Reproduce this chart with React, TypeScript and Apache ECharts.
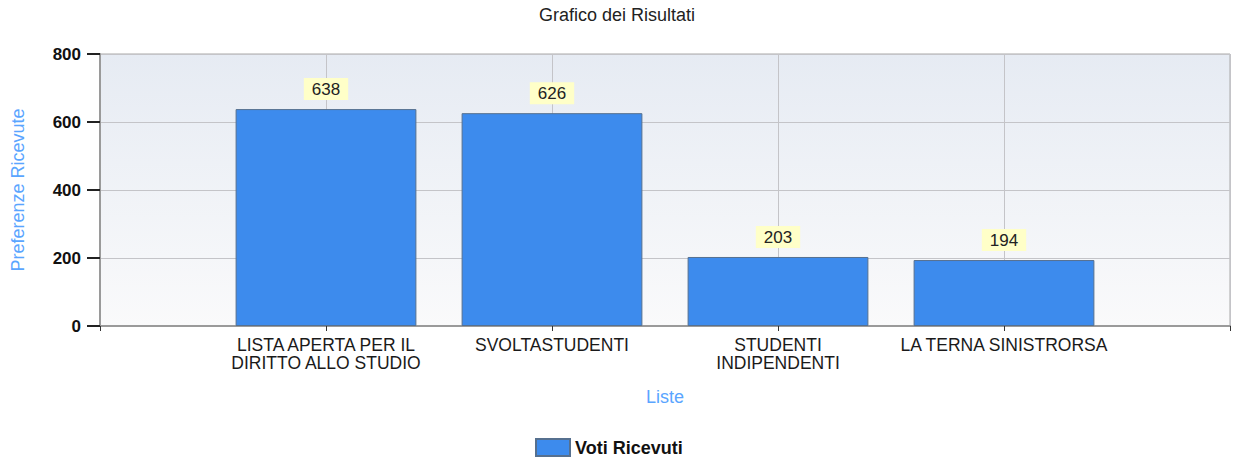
import React, { useEffect, useRef } from "react";
import * as echarts from "echarts";

const categories = [
  "LISTA APERTA PER IL\nDIRITTO ALLO STUDIO",
  "SVOLTASTUDENTI",
  "STUDENTI\nINDIPENDENTI",
  "LA TERNA SINISTRORSA",
];
const votes = [638, 626, 203, 194];
const seriesName = "Voti Ricevuti";
const yTicks = { min: 0, max: 800, interval: 200 };

const FONT = "'Liberation Sans', Arial, sans-serif";

export default function App() {
  const ref = useRef<HTMLDivElement>(null);
  useEffect(() => {
    if (!ref.current) return;
    const chart = echarts.init(ref.current, undefined, { renderer: "svg" });
    const axisData = ["", ...categories, ""];
    const seriesData = [null, ...votes, null];
    chart.setOption({
      animation: false,
      backgroundColor: "#ffffff",
      textStyle: { fontFamily: FONT },
      title: {
        text: "Grafico dei Risultati",
        left: "center",
        top: 1,
        textStyle: { fontFamily: FONT, fontSize: 18, fontWeight: "normal", color: "#222222" },
      },
      legend: {
        left: 535,
        top: 437,
        padding: 0,
        itemWidth: 34,
        itemHeight: 17,
        icon: "rect",
        data: [seriesName],
        textStyle: { fontFamily: FONT, fontSize: 18, fontWeight: "bold", color: "#111111", lineHeight: 21 },
      },
      grid: {
        left: 100,
        right: 4,
        top: 54,
        bottom: 133,
        show: true,
        borderColor: "#a8a8a8",
        borderWidth: 1,
        backgroundColor: new echarts.graphic.LinearGradient(0, 0, 0, 1, [
          { offset: 0, color: "#e6ebf3" },
          { offset: 1, color: "#fafafb" },
        ]),
      },
      xAxis: {
        type: "category",
        data: axisData,
        boundaryGap: false,
        name: "Liste",
        nameLocation: "middle",
        nameGap: 62,
        nameTextStyle: { fontFamily: FONT, fontSize: 18, color: "#5aa5ff" },
        axisLine: { show: true, lineStyle: { color: "#9a9a9a", width: 2 } },
        axisTick: { show: true, length: 5, interval: 0, lineStyle: { color: "#333333" } },
        axisLabel: {
          interval: 0,
          margin: 10,
          fontFamily: FONT,
          fontSize: 17.5,
          lineHeight: 18,
          color: "#1a1a1a",
        },
        splitLine: { show: true, interval: 0, lineStyle: { color: "#c4c4c8", width: 1 } },
      },
      yAxis: {
        type: "value",
        min: yTicks.min,
        max: yTicks.max,
        interval: yTicks.interval,
        name: "Preferenze Ricevute",
        nameLocation: "middle",
        nameGap: 73,
        nameTextStyle: { fontFamily: FONT, fontSize: 18, color: "#5aa5ff" },
        axisLine: { show: true, lineStyle: { color: "#9a9a9a", width: 2 } },
        axisTick: { show: true, length: 13, lineStyle: { color: "#222222", width: 2 } },
        axisLabel: {
          margin: 19,
          fontFamily: FONT,
          fontSize: 17,
          fontWeight: "bold",
          color: "#111111",
        },
        splitLine: { show: true, lineStyle: { color: "#c4c4c8", width: 1 } },
      },
      series: [
        {
          name: seriesName,
          type: "bar",
          data: seriesData,
          barWidth: "80%",
          itemStyle: { color: "#3d8bed", borderColor: "#56708f", borderWidth: 1 },
          label: {
            show: true,
            position: "top",
            distance: 9,
            fontFamily: FONT,
            fontSize: 17,
            lineHeight: 17,
            color: "#222222",
            backgroundColor: "#ffffc8",
            padding: [3, 8, 2, 8],
          },
        },
      ],
    });
    return () => chart.dispose();
  }, []);
  return (
    <div
      ref={ref}
      style={{ position: "fixed", left: 0, top: 0, width: 1234, height: 459 }}
    />
  );
}
